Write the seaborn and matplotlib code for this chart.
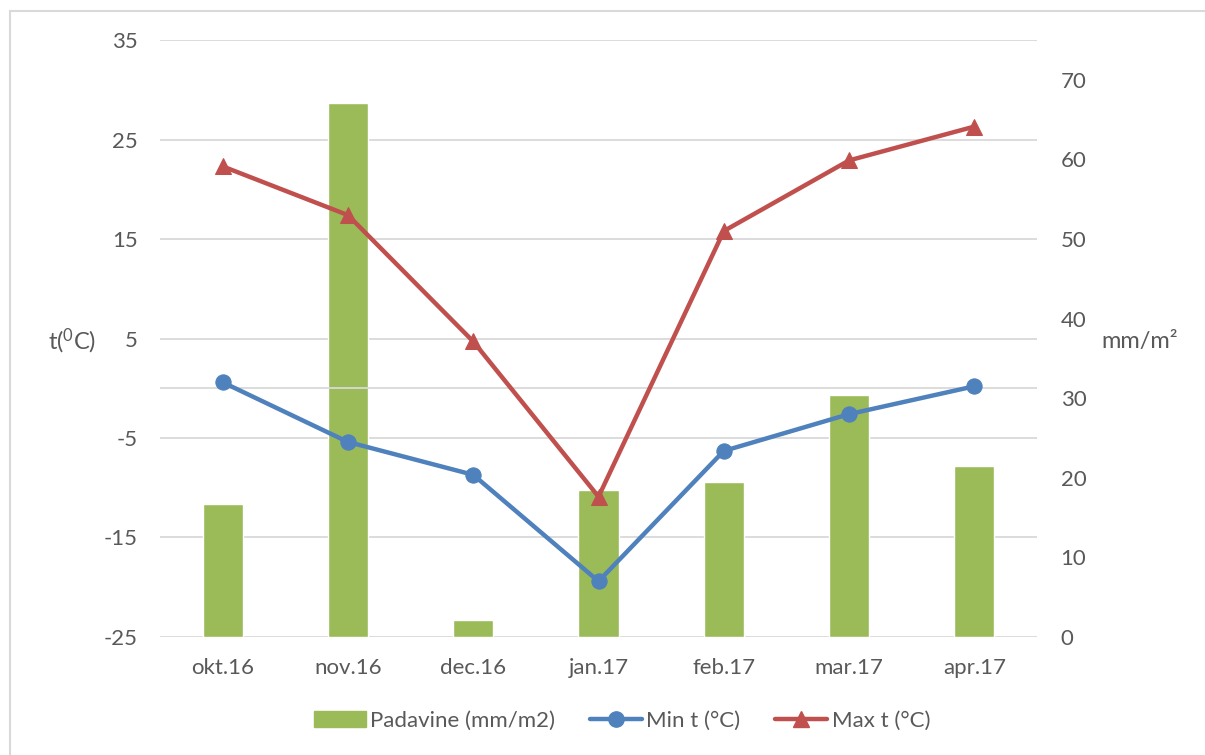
import matplotlib
matplotlib.use("Agg")
import matplotlib.pyplot as plt
from matplotlib.lines import Line2D
from matplotlib.patches import Patch
import seaborn as sns
import pandas as pd

months = ["okt.16", "nov.16", "dec.16", "jan.17", "feb.17", "mar.17", "apr.17"]
padavine = [16.7, 67.1, 2.1, 18.5, 19.5, 30.4, 21.5]
min_t = [0.6, -5.4, -8.7, -19.4, -6.3, -2.6, 0.2]
max_t = [22.3, 17.4, 4.7, -10.9, 15.8, 22.9, 26.3]

temp_ticks = [-25, -15, -5, 5, 15, 25, 35]
prec_ticks = [0, 10, 20, 30, 40, 50, 60, 70]

GREEN = "#9BBB59"
BLUE = "#4F81BD"
RED = "#C0504D"
GRID = "#D9D9D9"
TEXT = "#595959"
FS = 16

sns.set_theme(style="white")
plt.rcParams["font.family"] = ["Lato", "DejaVu Sans"]
plt.rcParams["axes.unicode_minus"] = False
plt.rcParams["mathtext.default"] = "regular"

df = pd.DataFrame({"month": months, "padavine": padavine,
                   "min_t": min_t, "max_t": max_t})

fig = plt.figure(figsize=(12.05, 7.55), dpi=100)
ax_t = fig.add_axes([0.1328, 0.1563, 0.7278, 0.7907])
ax_p = ax_t.twinx()
ax_t.set_zorder(ax_p.get_zorder() + 1)
ax_t.patch.set_visible(False)

# precipitation bars on the right-hand scale
sns.barplot(data=df, x="month", y="padavine", ax=ax_p, color=GREEN,
            width=0.32, saturation=1, zorder=2)
ax_p.set_ylim(0, 75)
ax_p.set_yticks(prec_ticks)
ax_p.set_ylabel("")
ax_p.set_xlabel("")

# horizontal gridlines of the temperature scale, kept behind the bars
ax_p.hlines(temp_ticks, -0.5, 6.5, colors=GRID, linewidth=1.3,
            transform=ax_t.transData, zorder=1)

# temperature lines on the left-hand scale
ax_t.axhline(0, color=GRID, linewidth=1.3, zorder=1)
sns.lineplot(x=range(len(months)), y=min_t, ax=ax_t, color=BLUE,
             linewidth=3.2, marker="o", markersize=11, markeredgecolor=BLUE,
             zorder=3)
sns.lineplot(x=range(len(months)), y=max_t, ax=ax_t, color=RED,
             linewidth=3.2, marker="^", markersize=11, markeredgecolor=RED,
             zorder=4)
ax_t.set_ylim(-25, 35)
ax_t.set_yticks(temp_ticks)
ax_t.set_xlim(-0.5, 6.5)
ax_p.set_xlim(-0.5, 6.5)
ax_t.set_xticks(range(len(months)))
ax_t.set_xticklabels(months)

for ax in (ax_t, ax_p):
    for s in ax.spines.values():
        s.set_visible(False)
    ax.tick_params(length=0, labelsize=FS, labelcolor=TEXT)
ax_t.tick_params(axis="y", pad=16)
ax_t.tick_params(axis="x", pad=15)
ax_p.tick_params(axis="y", pad=17)
ax_p.tick_params(axis="x", bottom=False, labelbottom=False)

fig.text(0.060, 0.548, "t($^{0}$C)", fontsize=FS + 1, color=TEXT,
         ha="center", va="center")
fig.text(0.946, 0.548, "mm/m\u00b2", fontsize=FS + 1, color=TEXT,
         ha="center", va="center")

handles = [
    Patch(facecolor=GREEN, edgecolor=GREEN),
    Line2D([0], [0], color=BLUE, linewidth=3.2, marker="o", markersize=11),
    Line2D([0], [0], color=RED, linewidth=3.2, marker="^", markersize=11),
]
labels = ["Padavine (mm/m2)", "Min t (°C)", "Max t (°C)"]
fig.legend(handles, labels, loc="center", bbox_to_anchor=(0.516, 0.045),
           ncol=3, frameon=False, fontsize=FS, labelcolor=TEXT,
           handlelength=2.35, handletextpad=0.2, columnspacing=1.55)

# light frame around the chart area
fig.add_artist(Line2D([0.0083, 1.0], [0.9854, 0.9854], color=GRID,
                      linewidth=1.5, transform=fig.transFigure))
fig.add_artist(Line2D([0.0083, 0.0083], [0.0, 0.9854], color=GRID,
                      linewidth=1.5, transform=fig.transFigure))

fig.savefig("out.png", dpi=100, facecolor="white")
